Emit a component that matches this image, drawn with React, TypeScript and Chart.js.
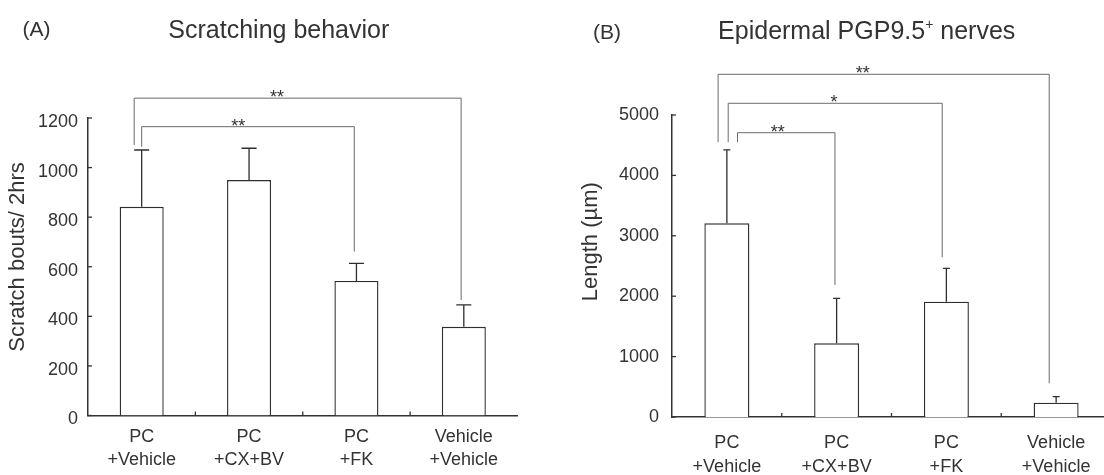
import React, { useEffect, useRef } from 'react';
import { Chart, registerables } from 'chart.js';

Chart.register(...registerables);

// ---------- data ----------
const categories = [
  ['PC', '+Vehicle'],
  ['PC', '+CX+BV'],
  ['PC', '+FK'],
  ['Vehicle', '+Vehicle'],
];

const scratchMeans = [842, 950, 543, 358];
const scratchErrors = [229, 128, 71, 88];
const scratchTicks = [0, 200, 400, 600, 800, 1000, 1200];

const nerveMeans = [3207, 1220, 1909, 237];
const nerveErrors = [1214, 745, 553, 99];
const nerveTicks = [0, 1000, 2000, 3000, 4000, 5000];

// significance brackets (x in category index units, y in data units)
const scratchBracketFrom = [-0.07, 0.0];
const scratchBracketTo = [2.975, 1.98];
const scratchBracketLevel = [1280, 1165];
const scratchBracketLeftEnd = [1091, 1084];
const scratchBracketRightEnd = [466, 661];
const scratchBracketLabel = ['**', '**'];
const scratchBracketLabelX = [1.26, 0.9];

const nerveBracketFrom = [-0.08, 0.012, 0.097];
const nerveBracketTo = [2.937, 1.962, 0.985];
const nerveBracketLevel = [5674, 5194, 4707];
const nerveBracketLeftEnd = [4550, 4550, 4550];
const nerveBracketRightEnd = [558, 2644, 2185];
const nerveBracketLabel = ['**', '*', '**'];
const nerveBracketLabelX = [1.237, 0.977, 0.464];

// ---------- style ----------
const FONT = '"Liberation Sans", Arial, Helvetica, sans-serif';
const INK = '#333333';
const BAR = '#2e2e2e';
const BRACKET = '#6a6a6a';

type Cfg = {
  means: number[];
  errors: number[];
  ticks: number[];
  max: number;
  bFrom: number[];
  bTo: number[];
  bLevel: number[];
  bLeft: number[];
  bRight: number[];
  bLabel: string[];
  bLabelX: number[];
  canvasLeft: number;
  canvasWidth: number;
  yWidth: number;
  padRight: number;
  padTop: number;
  xHeight: number;
  yPad: number;
  labelOffset: number;
  xPad: number;
  capHalf: number;
  letter: string;
  letterX: number;
  letterY: number;
  titleParts: [string, string, string];
  titleX: number;
  titleY: number;
  yTitle: string;
  yTitleX: number;
  yTitleY: number;
};

const panelA: Cfg = {
  means: scratchMeans,
  errors: scratchErrors,
  ticks: scratchTicks,
  max: 1200,
  bFrom: scratchBracketFrom,
  bTo: scratchBracketTo,
  bLevel: scratchBracketLevel,
  bLeft: scratchBracketLeftEnd,
  bRight: scratchBracketRightEnd,
  bLabel: scratchBracketLabel,
  bLabelX: scratchBracketLabelX,
  canvasLeft: 0,
  canvasWidth: 552,
  yWidth: 88,
  padRight: 34.5,
  padTop: 118,
  xHeight: 59.5,
  yPad: 10,
  labelOffset: 4,
  xPad: 10,
  capHalf: 7.5,
  letter: '(A)',
  letterX: 36.5,
  letterY: 30,
  titleParts: ['Scratching behavior', '', ''],
  titleX: 278.8,
  titleY: 31,
  yTitle: 'Scratch bouts/ 2hrs',
  yTitleX: 17.5,
  yTitleY: 257,
};

const panelB: Cfg = {
  means: nerveMeans,
  errors: nerveErrors,
  ticks: nerveTicks,
  max: 5000,
  bFrom: nerveBracketFrom,
  bTo: nerveBracketTo,
  bLevel: nerveBracketLevel,
  bLeft: nerveBracketLeftEnd,
  bRight: nerveBracketRightEnd,
  bLabel: nerveBracketLabel,
  bLabelX: nerveBracketLabelX,
  canvasLeft: 552,
  canvasWidth: 580,
  yWidth: 120,
  padRight: 21,
  padTop: 115,
  xHeight: 58,
  yPad: 13,
  labelOffset: 0,
  xPad: 15,
  capHalf: 3.5,
  letter: '(B)',
  letterX: 54.9,
  letterY: 33,
  titleParts: ['Epidermal PGP9.5', '+', ' nerves'],
  titleX: 314.7,
  titleY: 32,
  yTitle: 'Length (\u00b5m)',
  yTitleX: 39,
  yTitleY: 241.7,
};

function makePlugin(cfg: Cfg) {
  return {
    id: 'extras',
    afterDatasetsDraw(chart: any) {
      const ctx = chart.ctx;
      const y = chart.scales.y;
      const meta = chart.getDatasetMeta(0);
      ctx.save();
      ctx.strokeStyle = BAR;
      ctx.lineWidth = 1.3;
      cfg.means.forEach((v, i) => {
        const x = meta.data[i].x;
        const y0 = y.getPixelForValue(v);
        const y1 = y.getPixelForValue(v + cfg.errors[i]);
        ctx.beginPath();
        ctx.moveTo(x, y0);
        ctx.lineTo(x, y1);
        ctx.moveTo(x - cfg.capHalf, y1);
        ctx.lineTo(x + cfg.capHalf, y1);
        ctx.stroke();
      });
      ctx.restore();
    },
    afterDraw(chart: any) {
      const ctx = chart.ctx;
      const xs = chart.scales.x;
      const ys = chart.scales.y;
      const area = chart.chartArea;
      ctx.save();
      // inward axis ticks
      ctx.strokeStyle = INK;
      ctx.lineWidth = 1.3;
      cfg.ticks.forEach((t) => {
        const py = ys.getPixelForValue(t);
        ctx.beginPath();
        ctx.moveTo(area.left, py);
        ctx.lineTo(area.left + 4, py);
        ctx.stroke();
      });
      for (let i = 0; i < categories.length - 1; i++) {
        const px = xs.getPixelForValue(i + 0.5);
        ctx.beginPath();
        ctx.moveTo(px, area.bottom);
        ctx.lineTo(px, area.bottom - 4);
        ctx.stroke();
      }
      // brackets
      ctx.strokeStyle = BRACKET;
      ctx.lineWidth = 1;
      ctx.fillStyle = INK;
      ctx.font = `18px ${FONT}`;
      ctx.textAlign = 'center';
      ctx.textBaseline = 'alphabetic';
      cfg.bFrom.forEach((f, i) => {
        const xl = xs.getPixelForValue(f);
        const xr = xs.getPixelForValue(cfg.bTo[i]);
        const yl = ys.getPixelForValue(cfg.bLevel[i]);
        const ya = ys.getPixelForValue(cfg.bLeft[i]);
        const yb = ys.getPixelForValue(cfg.bRight[i]);
        ctx.beginPath();
        ctx.moveTo(xl, ya);
        ctx.lineTo(xl, yl);
        ctx.lineTo(xr, yl);
        ctx.lineTo(xr, yb);
        ctx.stroke();
        ctx.fillText(cfg.bLabel[i], xs.getPixelForValue(cfg.bLabelX[i]), yl + 5);
      });
      // panel letter
      ctx.fillStyle = INK;
      ctx.textBaseline = 'middle';
      ctx.textAlign = 'center';
      ctx.font = `21px ${FONT}`;
      ctx.fillText(cfg.letter, cfg.letterX, cfg.letterY);
      // title (with optional superscript)
      const big = `25px ${FONT}`;
      const small = `14px ${FONT}`;
      const [p1, sup, p2] = cfg.titleParts;
      ctx.font = big;
      const w1 = ctx.measureText(p1).width;
      const w3 = ctx.measureText(p2).width;
      ctx.font = small;
      const w2 = sup ? ctx.measureText(sup).width : 0;
      const total = w1 + w2 + w3;
      let cx = cfg.titleX - total / 2;
      ctx.textAlign = 'left';
      ctx.font = big;
      ctx.fillText(p1, cx, cfg.titleY);
      cx += w1;
      if (sup) {
        ctx.font = small;
        ctx.fillText(sup, cx, cfg.titleY - 7);
        cx += w2;
      }
      if (p2) {
        ctx.font = big;
        ctx.fillText(p2, cx, cfg.titleY);
      }
      // y title
      ctx.translate(cfg.yTitleX, cfg.yTitleY);
      ctx.rotate(-Math.PI / 2);
      ctx.textAlign = 'center';
      ctx.font = `22px ${FONT}`;
      ctx.fillText(cfg.yTitle, 0, 0);
      ctx.restore();
    },
  };
}

function Panel({ cfg }: { cfg: Cfg }) {
  const ref = useRef<HTMLCanvasElement>(null);
  useEffect(() => {
    const canvas = ref.current!;
    const chart = new Chart(canvas, {
      type: 'bar',
      data: {
        labels: categories,
        datasets: [
          {
            data: cfg.means,
            backgroundColor: '#ffffff',
            borderColor: BAR,
            borderWidth: 1.4,
            barPercentage: 0.41,
            categoryPercentage: 1,
          },
        ],
      },
      options: {
        responsive: false,
        animation: false,
        devicePixelRatio: 1,
        layout: { padding: { left: 0, right: cfg.padRight, top: cfg.padTop, bottom: 0 } },
        plugins: {
          legend: { display: false },
          tooltip: { enabled: false },
          title: { display: false },
        },
        scales: {
          x: {
            type: 'category',
            offset: true,
            grid: { display: false, drawTicks: false },
            border: { display: true, color: INK, width: 1.5 },
            ticks: {
              color: INK,
              font: { family: FONT, size: 18, lineHeight: 1.28 },
              padding: cfg.xPad,
              maxRotation: 0,
              autoSkip: false,
            },
            afterFit: (s: any) => {
              s.height = cfg.xHeight;
            },
          },
          y: {
            min: 0,
            max: cfg.max,
            grid: { display: false, drawTicks: false },
            border: { display: true, color: INK, width: 1.5 },
            ticks: {
              color: INK,
              font: { family: FONT, size: 18 },
              padding: cfg.yPad,
              labelOffset: cfg.labelOffset,
              callback: (v: any) => String(v),
            },
            afterBuildTicks: (s: any) => {
              s.ticks = cfg.ticks.map((v) => ({ value: v }));
            },
            afterFit: (s: any) => {
              s.width = cfg.yWidth;
            },
          },
        },
      } as any,
      plugins: [makePlugin(cfg)],
    });
    return () => chart.destroy();
  }, [cfg]);
  return (
    <canvas
      ref={ref}
      width={cfg.canvasWidth}
      height={475}
      style={{
        position: 'absolute',
        left: cfg.canvasLeft,
        top: 0,
        width: cfg.canvasWidth,
        height: 475,
        display: 'block',
      }}
    />
  );
}

export default function App() {
  return (
    <div
      style={{
        position: 'fixed',
        left: 0,
        top: 0,
        width: 1104,
        height: 475,
        overflow: 'hidden',
        background: '#ffffff',
      }}
    >
      <Panel cfg={panelA} />
      <Panel cfg={panelB} />
    </div>
  );
}
